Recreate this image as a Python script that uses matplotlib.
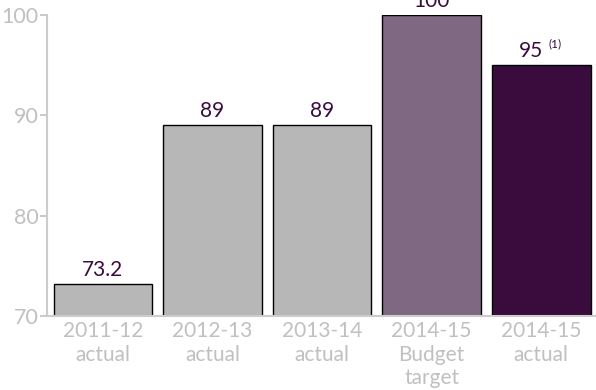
import matplotlib.pyplot as plt
import numpy as np

# Data
categories = ["2011-12\nactual", "2012-13\nactual", "2013-14\nactual",
              "2014-15\nBudget\ntarget", "2014-15\nactual"]
values = [73.2, 89, 89, 100, 95]
value_labels = ["73.2", "89", "89", "100", "95"]
colors = ["#b7b7b7", "#b7b7b7", "#b7b7b7", "#7f6882", "#3a0c3e"]

plt.rcParams["font.family"] = ["Lato", "DejaVu Sans"]

fig = plt.figure(figsize=(5.96, 3.9), dpi=100)
ax = fig.add_axes([0.079, 0.19, 0.921, 0.772])

x = np.arange(len(values))
ax.bar(x, np.array(values) - 70, bottom=70, width=0.9,
       color=colors, edgecolor="black", linewidth=1)

for xi, v, lab in zip(x, values, value_labels):
    if lab == "95":
        # main value plus small footnote marker
        ax.annotate(lab, (xi, v), xytext=(-7, 3), textcoords="offset points",
                    ha="center", va="bottom", fontsize=15, color="#3a0c3e")
        ax.annotate("(1)", (xi, v), xytext=(10, 11), textcoords="offset points",
                    ha="center", va="bottom", fontsize=8.5, color="#3a0c3e")
    else:
        ax.annotate(lab, (xi, v), xytext=(0, 3), textcoords="offset points",
                    ha="center", va="bottom", fontsize=15, color="#3a0c3e",
                    annotation_clip=False)

ax.set_ylim(70, 100)
ax.set_xlim(-0.51, 4.5)
ax.set_yticks([70, 80, 90, 100])
ax.set_xticks(x)
ax.set_xticklabels(categories, linespacing=1.22)

for s in ["top", "right"]:
    ax.spines[s].set_visible(False)
for s in ["left", "bottom"]:
    ax.spines[s].set_color("#cccccc")
    ax.spines[s].set_linewidth(1.5)

ax.tick_params(axis="y", colors="#c0c0c0", labelsize=15.5, length=5, width=1.2, pad=1)
ax.tick_params(axis="x", colors="#c0c0c0", labelsize=15, length=0, pad=4)

fig.savefig("out.png", dpi=100)
